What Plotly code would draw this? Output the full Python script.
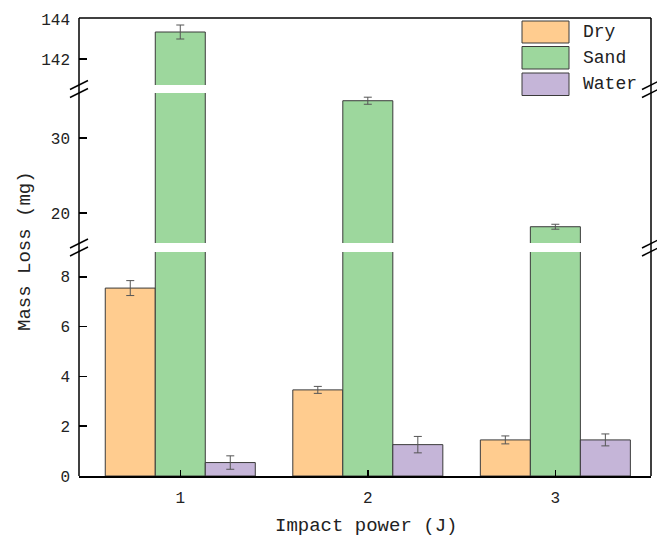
import plotly.graph_objects as go

# ---- data ----
categories = [1, 2, 3]
series_names = ["Dry", "Sand", "Water"]
dry = [7.55, 3.46, 1.45]
dry_err = [0.30, 0.14, 0.16]
sand = [143.35, 34.97, 18.17]
sand_err = [0.35, 0.47, 0.33]
water = [0.54, 1.26, 1.45]
water_err = [0.27, 0.33, 0.24]
x_ticks = [1, 2, 3]

colors = ["#FFCC8F", "#9DD79D", "#C5B5D8"]
values = [dry, sand, water]
errors = [dry_err, sand_err, water_err]

# ---- layout geometry (px) ----
W, H = 657, 536
L, R, T, B = 79, 6, 18, 60
PW, PH = W - L - R, H - T - B

def py(y):  # pixel y -> paper
    return (H - B - y) / PH

def px(x):
    return (x - L) / PW

segments = [
    # (axis name, range, domain pixel (bottom, top), dtick)
    ("y", [0, 9], (476, 252), 2),
    ("y2", [16, 36], (243, 93), 10),
    ("y3", [140.7, 144.05], (85, 18), 2),
]

FONT = "Liberation Mono"
TXT = "#222222"

fig = go.Figure()
for ax, rng, dom, dt in segments:
    for name, col, vals, errs in zip(series_names, colors, values, errors):
        err_vis = [e if rng[0] <= v <= rng[1] else 0 for v, e in zip(vals, errs)]
        fig.add_trace(go.Bar(
            x=categories, y=vals, name=name, xaxis="x", yaxis=ax,
            marker=dict(color=col, line=dict(color="#3a3a3a", width=1)),
            error_y=dict(type="data", array=err_vis, visible=True,
                         color="#555555", thickness=1, width=4),
            showlegend=False, hoverinfo="skip",
        ))

layout_axes = {}
for i, (ax, rng, dom, dt) in enumerate(segments):
    key = "yaxis" if ax == "y" else "yaxis" + ax[1:]
    layout_axes[key] = dict(
        range=rng, domain=[py(dom[0]), py(dom[1])], dtick=dt, tick0=0,
        anchor="x", showline=False, showgrid=False, zeroline=False,
        ticks="inside", ticklen=8, tickwidth=1.5, tickcolor="black",
        ticklabelstandoff=8,
        tickfont=dict(family=FONT, size=16, color=TXT),
    )

fig.update_layout(
    width=W, height=H,
    margin=dict(l=L, r=R, t=T, b=B, pad=0),
    paper_bgcolor="white", plot_bgcolor="white",
    barmode="group", bargap=0.2, bargroupgap=0,
    xaxis=dict(
        range=[0.46, 3.51], tickvals=x_ticks, ticktext=[str(v) for v in x_ticks],
        showline=True, linecolor="black", linewidth=1.5, mirror=False,
        ticks="inside", ticklen=6, tickwidth=1.5, tickcolor="black",
        showgrid=False, zeroline=False, anchor="y",
        ticklabelstandoff=6,
        tickfont=dict(family=FONT, size=16, color=TXT),
    ),
    **layout_axes,
)

shapes = []
# frame: left, right, top
shapes.append(dict(type="line", xref="paper", yref="paper", x0=0, x1=0, y0=0, y1=1,
                   line=dict(color="black", width=1.5)))
shapes.append(dict(type="line", xref="paper", yref="paper", x0=1, x1=1, y0=0, y1=1,
                   line=dict(color="black", width=1.5)))
shapes.append(dict(type="line", xref="paper", yref="paper", x0=0, x1=1, y0=1, y1=1,
                   line=dict(color="black", width=1.5)))

# break marks
gap_centers = [(252 + 243) / 2, (93 + 85) / 2]
for yc in gap_centers:
    for xa in [L, W - R]:
        for s in (-4, 4):
            shapes.append(dict(type="line", xref="paper", yref="paper",
                               x0=px(xa - 9), y0=py(yc + s + 4.5),
                               x1=px(xa + 9), y1=py(yc + s - 4.5),
                               line=dict(color="black", width=1.5)))

# custom legend
annotations = []
leg_rows = [(21, 43), (46.5, 69), (73, 95.5)]
for (y0, y1), name, col in zip(leg_rows, series_names, colors):
    shapes.append(dict(type="rect", xref="paper", yref="paper",
                       x0=px(522), x1=px(569), y0=py(y1), y1=py(y0),
                       fillcolor=col, line=dict(color="#3a3a3a", width=1)))
    annotations.append(dict(xref="paper", yref="paper", x=px(581), y=py((y0 + y1) / 2),
                            text=name, showarrow=False, xanchor="left", yanchor="middle",
                            font=dict(family=FONT, size=18, color=TXT)))

# axis titles
annotations.append(dict(xref="paper", yref="paper", x=px(366), y=py(526),
                        text="Impact power (J)", showarrow=False,
                        xanchor="center", yanchor="middle",
                        font=dict(family=FONT, size=19, color=TXT)))
annotations.append(dict(xref="paper", yref="paper", x=px(25), y=py(251),
                        text="Mass Loss (mg)", showarrow=False, textangle=-90,
                        xanchor="center", yanchor="middle",
                        font=dict(family=FONT, size=19, color=TXT)))

fig.update_layout(shapes=shapes, annotations=annotations)
fig.write_html("out.html",
               config={"displayModeBar": False, "staticPlot": True},
               post_script="document.body.style.margin='0';document.body.style.overflow='hidden';")
